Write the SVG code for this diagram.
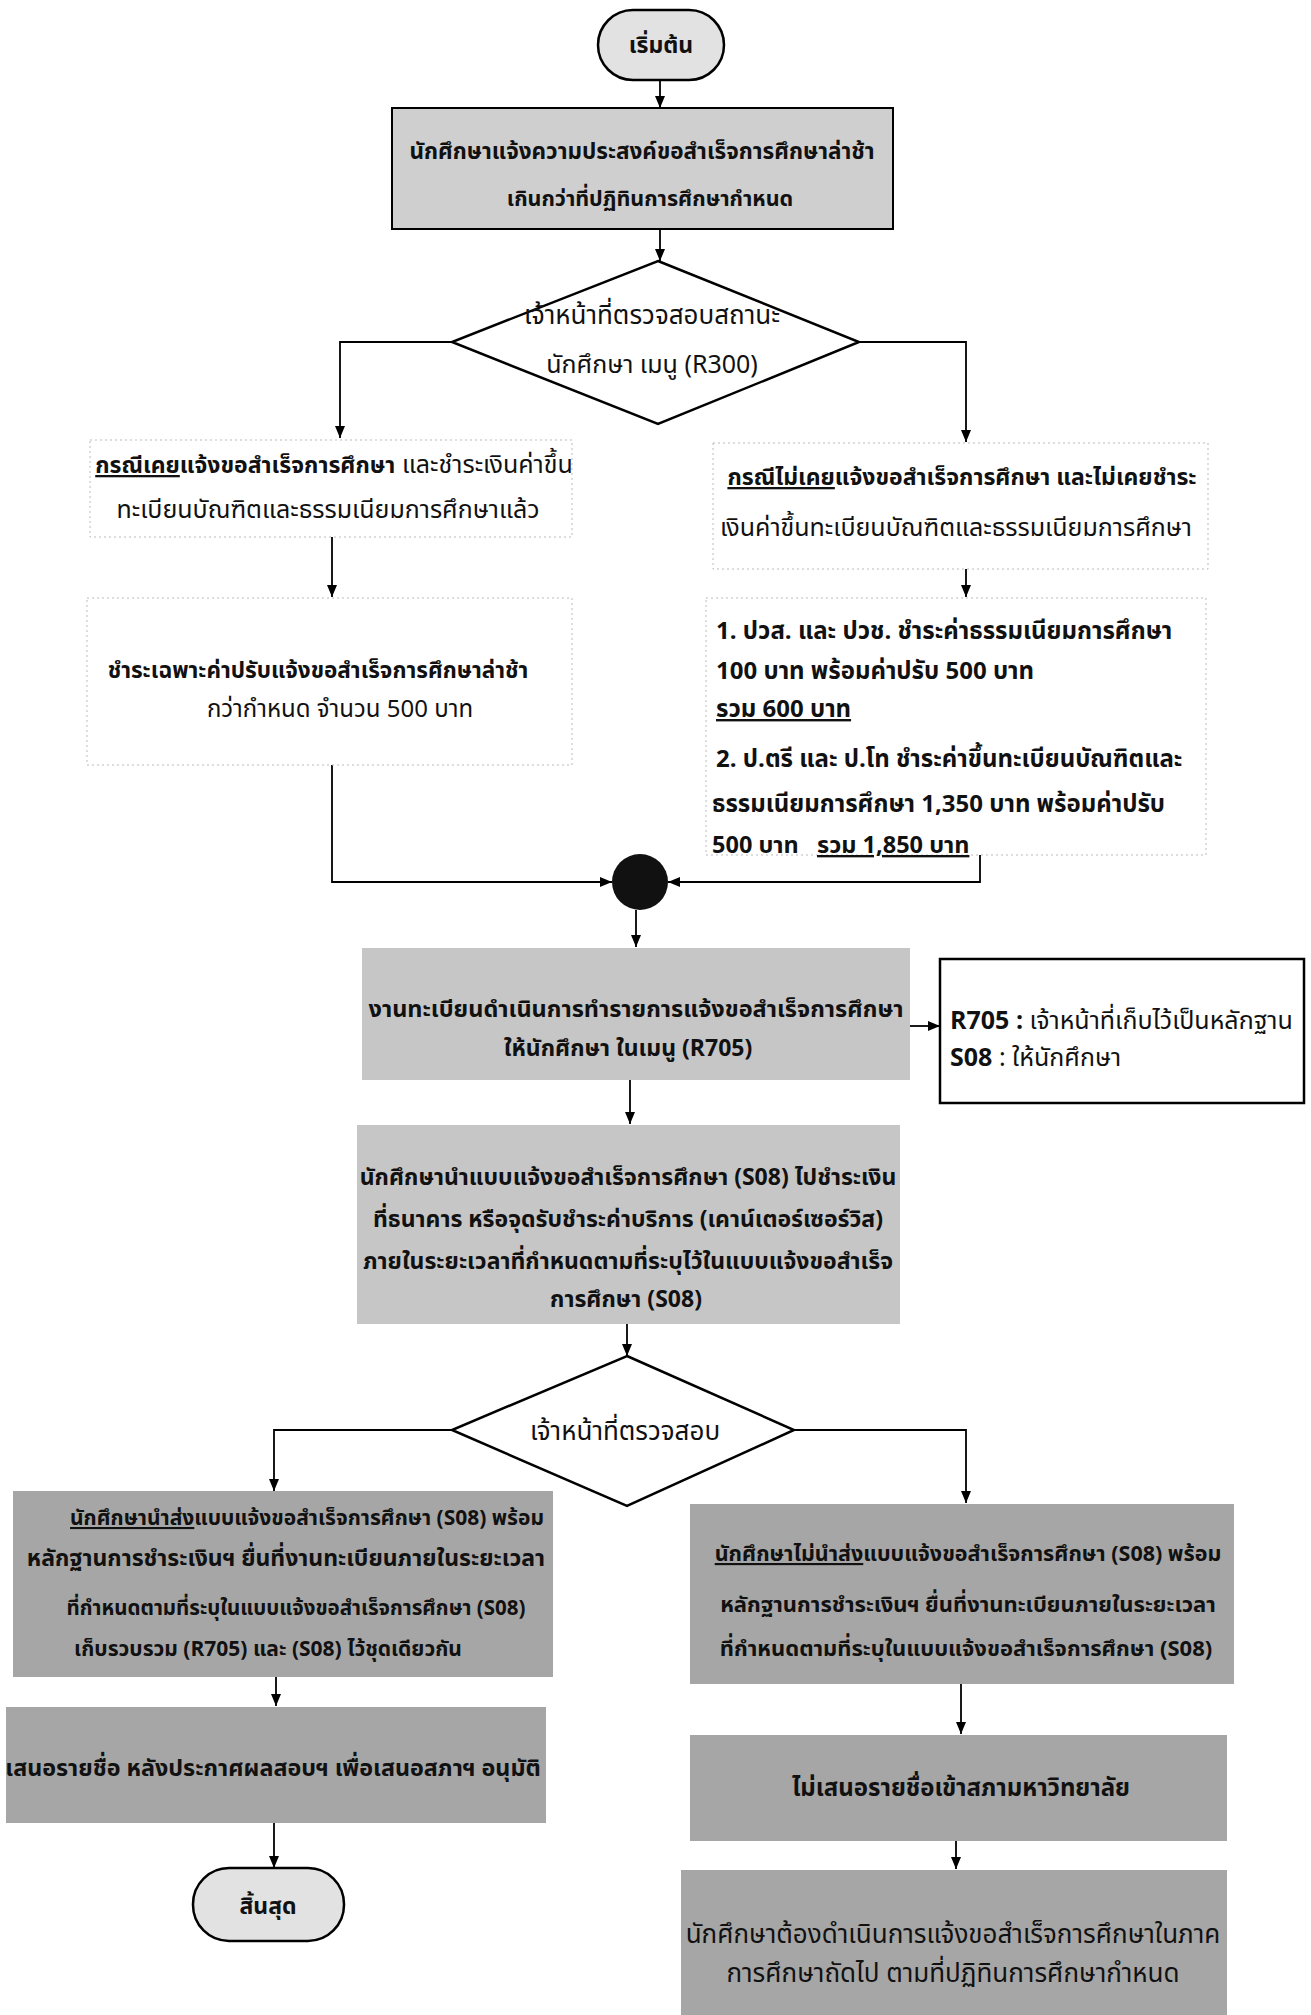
<svg xmlns="http://www.w3.org/2000/svg" width="1311" height="2015" viewBox="0 0 1311 2015">
<defs>
<marker id="ah" viewBox="0 0 12 10" refX="12" refY="5" markerWidth="12" markerHeight="10" markerUnits="userSpaceOnUse" orient="auto"><path d="M0,0 L12,5 L0,10 Z" fill="#000"/></marker>
<style>
text{font-family:"Noto Sans Thai","Tahoma","Loma","Garuda","Noto Sans",sans-serif;font-size:23px;fill:#111;}
.c{text-anchor:middle;}
.b{font-weight:bold;}
.r{font-size:25px;}
.u{text-decoration:underline;}
.pill{fill:#e2e2e2;stroke:#000;stroke-width:2.5;}
.g1{fill:#cfcfcf;stroke:#000;stroke-width:2;}
.g2{fill:#c6c6c6;stroke:none;}
.g3{fill:#a6a6a6;stroke:none;}
.w{fill:#fff;stroke:#bbb;stroke-width:1;stroke-dasharray:2 3;}
.wb{fill:#fff;stroke:#000;stroke-width:2.5;}
.dia{fill:#fff;stroke:#000;stroke-width:2.5;}
.cn{fill:none;stroke:#000;stroke-width:1.8;marker-end:url(#ah);}
.cl{fill:none;stroke:#000;stroke-width:1.8;}
</style>
</defs>
<rect width="1311" height="2015" fill="#fff"/>

<g id="connectors">
<path class="cn" d="M660,80 V108"/>
<path class="cn" d="M660,229 V261"/>
<path class="cn" d="M452,342 H340 V438"/>
<path class="cn" d="M859,342 H966 V442"/>
<path class="cn" d="M332,537 V597"/>
<path class="cn" d="M966,569 V597"/>
<path class="cn" d="M332,765 V882 H612"/>
<path class="cn" d="M980,855 V882 H668"/>
<path class="cn" d="M636,910 V947"/>
<path class="cn" d="M910,1026 H940"/>
<path class="cn" d="M630,1080 V1124"/>
<path class="cn" d="M627,1324 V1356"/>
<path class="cn" d="M452,1430 H274 V1491"/>
<path class="cn" d="M794,1430 H966 V1503"/>
<path class="cn" d="M276,1677 V1706"/>
<path class="cn" d="M961,1684 V1734"/>
<path class="cn" d="M274,1823 V1868"/>
<path class="cn" d="M956,1841 V1869"/>
<path class="cl" d="M812,1998 V2015"/>
</g>

<g id="start">
<rect class="pill" x="598" y="10" width="126" height="70" rx="35"/>
<text class="c b" x="661" y="53">เริ่มต้น</text>
</g>

<g id="n1">
<rect class="g1" x="392" y="108" width="501" height="121"/>
<text class="c b" x="642" y="159" style="font-size:22.5px">นักศึกษาแจ้งความประสงค์ขอสำเร็จการศึกษาล่าช้า</text>
<text class="c b" x="650" y="206" style="font-size:21.5px">เกินกว่าที่ปฏิทินการศึกษากำหนด</text>
</g>

<g id="d1">
<polygon class="dia" points="658,261 859,342 658,424 452,342"/>
<text class="c" x="652" y="324" style="font-size:26px">เจ้าหน้าที่ตรวจสอบสถานะ</text>
<text class="c" x="652" y="373" style="font-size:25px">นักศึกษา เมนู (R300)</text>
</g>

<g id="nA">
<rect class="w" x="90" y="440" width="482" height="97"/>
<text class="c" x="334" y="473"><tspan class="b u">กรณีเคย</tspan><tspan class="b">แจ้งขอสำเร็จการศึกษา</tspan><tspan class="r"> และชำระเงินค่าขึ้น</tspan></text>
<text class="c r" x="328" y="518">ทะเบียนบัณฑิตและธรรมเนียมการศึกษาแล้ว</text>
</g>

<g id="nB">
<rect class="w" x="87" y="598" width="485" height="167"/>
<text class="c b" x="318" y="678" style="font-size:22.5px">ชำระเฉพาะค่าปรับแจ้งขอสำเร็จการศึกษาล่าช้า</text>
<text class="c r" x="340" y="717" style="font-size:24px">กว่ากำหนด จำนวน 500 บาท</text>
</g>

<g id="nC">
<rect class="w" x="713" y="443" width="495" height="126"/>
<text class="c" x="962" y="485"><tspan class="b u">กรณีไม่เคย</tspan><tspan class="b">แจ้งขอสำเร็จการศึกษา และไม่เคยชำระ</tspan></text>
<text class="c r" x="956" y="536">เงินค่าขึ้นทะเบียนบัณฑิตและธรรมเนียมการศึกษา</text>
</g>

<g id="nD">
<rect class="w" x="706" y="598" width="500" height="257"/>
<text class="b" x="716" y="639" style="font-size:24px">1. ปวส. และ ปวช. ชำระค่าธรรมเนียมการศึกษา</text>
<text class="b" x="716" y="679" style="font-size:24px">100 บาท พร้อมค่าปรับ 500 บาท</text>
<text class="b u" x="716" y="717" style="font-size:24px">รวม 600 บาท</text>
<text class="b" x="716" y="767" style="font-size:24px">2. ป.ตรี และ ป.โท ชำระค่าขึ้นทะเบียนบัณฑิตและ</text>
<text class="b" x="712" y="812" style="font-size:24px">ธรรมเนียมการศึกษา 1,350 บาท พร้อมค่าปรับ</text>
<text class="b" x="712" y="853" style="font-size:23.5px" xml:space="preserve">500 บาท   <tspan class="u">รวม 1,850 บาท</tspan></text>
</g>

<g id="merge">
<circle cx="640" cy="882" r="28" fill="#111"/>
</g>

<g id="nE">
<rect class="g2" x="362" y="948" width="548" height="132"/>
<text class="c b" x="636" y="1017" style="font-size:23.5px">งานทะเบียนดำเนินการทำรายการแจ้งขอสำเร็จการศึกษา</text>
<text class="c b" x="628" y="1056">ให้นักศึกษา ในเมนู (R705)</text>
</g>

<g id="nF">
<rect class="wb" x="940" y="959" width="364" height="144"/>
<text x="950" y="1029" style="font-size:25px"><tspan class="b">R705 :</tspan> เจ้าหน้าที่เก็บไว้เป็นหลักฐาน</text>
<text x="950" y="1066" style="font-size:25px"><tspan class="b">S08</tspan> : ให้นักศึกษา</text>
</g>

<g id="nG">
<rect class="g2" x="357" y="1125" width="543" height="199"/>
<text class="c b" x="628" y="1185">นักศึกษานำแบบแจ้งขอสำเร็จการศึกษา (S08) ไปชำระเงิน</text>
<text class="c b" x="628" y="1227">ที่ธนาคาร หรือจุดรับชำระค่าบริการ (เคาน์เตอร์เซอร์วิส)</text>
<text class="c b" x="628" y="1269">ภายในระยะเวลาที่กำหนดตามที่ระบุไว้ในแบบแจ้งขอสำเร็จ</text>
<text class="c b" x="626" y="1307">การศึกษา (S08)</text>
</g>

<g id="d2">
<polygon class="dia" points="627,1356 794,1430 627,1506 452,1430"/>
<text class="c" x="625" y="1440" style="font-size:26px">เจ้าหน้าที่ตรวจสอบ</text>
</g>

<g id="nH">
<rect class="g3" x="13" y="1491" width="540" height="186"/>
<text class="c b" x="307" y="1525" style="font-size:21px"><tspan class="u">นักศึกษานำส่ง</tspan>แบบแจ้งขอสำเร็จการศึกษา (S08) พร้อม</text>
<text class="c b" x="286" y="1566" style="font-size:23px">หลักฐานการชำระเงินฯ ยื่นที่งานทะเบียนภายในระยะเวลา</text>
<text class="c b" x="296" y="1615" style="font-size:20.5px">ที่กำหนดตามที่ระบุในแบบแจ้งขอสำเร็จการศึกษา (S08)</text>
<text class="c b" x="268" y="1656" style="font-size:21px">เก็บรวบรวม (R705) และ (S08) ไว้ชุดเดียวกัน</text>
</g>

<g id="nI">
<rect class="g3" x="6" y="1707" width="540" height="116"/>
<text class="c b" x="273" y="1776" style="font-size:23.3px">เสนอรายชื่อ หลังประกาศผลสอบฯ เพื่อเสนอสภาฯ อนุมัติ</text>
</g>

<g id="end">
<rect class="pill" x="193" y="1868" width="151" height="73" rx="36"/>
<text class="c b" x="268" y="1914">สิ้นสุด</text>
</g>

<g id="nJ">
<rect class="g3" x="690" y="1504" width="544" height="180"/>
<text class="c b" x="968" y="1561" style="font-size:21.5px"><tspan class="u">นักศึกษาไม่นำส่ง</tspan>แบบแจ้งขอสำเร็จการศึกษา (S08) พร้อม</text>
<text class="c b" x="968" y="1612" style="font-size:22px">หลักฐานการชำระเงินฯ ยื่นที่งานทะเบียนภายในระยะเวลา</text>
<text class="c b" x="966" y="1656" style="font-size:22px">ที่กำหนดตามที่ระบุในแบบแจ้งขอสำเร็จการศึกษา (S08)</text>
</g>

<g id="nK">
<rect class="g3" x="690" y="1735" width="537" height="106"/>
<text class="c b" x="961" y="1796" style="font-size:24px">ไม่เสนอรายชื่อเข้าสภามหาวิทยาลัย</text>
</g>

<g id="nL">
<rect class="g3" x="681" y="1870" width="546" height="145"/>
<text class="c r" x="953" y="1943" style="font-size:26px">นักศึกษาต้องดำเนินการแจ้งขอสำเร็จการศึกษาในภาค</text>
<text class="c r" x="953" y="1982" style="font-size:26px">การศึกษาถัดไป ตามที่ปฏิทินการศึกษากำหนด</text>
</g>
</svg>
